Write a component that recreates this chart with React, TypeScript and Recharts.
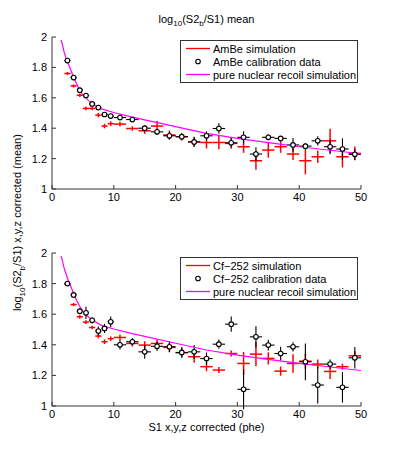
import { ComposedChart, Scatter, Line, XAxis, YAxis, ErrorBar, Legend } from "recharts";

const FONT = "'Liberation Sans', Arial, sans-serif";
const AXIS = "#333";

// S1 bin centres and bin half widths
const s1 = [2.5, 3.5, 4.5, 5.5, 6.5, 7.5, 8.5, 9.5, 11, 13, 15, 17, 19, 21, 23, 25, 27, 29, 31, 33, 35, 37, 39, 41, 43, 45, 47, 49];
const binHalf = [0.5, 0.5, 0.5, 0.5, 0.5, 0.5, 0.5, 0.5, 1, 1, 1, 1, 1, 1, 1, 1, 1, 1, 1, 1, 1, 1, 1, 1, 1, 1, 1, 1];

// AmBe
const ambeSim = [1.76, 1.678, 1.617, 1.53, 1.53, 1.486, 1.414, 1.43, 1.427, 1.398, 1.383, 1.414, 1.355, 1.344, 1.31, 1.306, 1.306, 1.3, 1.278, 1.186, 1.256, 1.278, 1.23, 1.186, 1.212, 1.317, 1.212, 1.234];
const ambeSimErr = [0.01, 0.01, 0.012, 0.012, 0.012, 0.015, 0.015, 0.015, 0.015, 0.015, 0.02, 0.033, 0.03, 0.025, 0.03, 0.04, 0.045, 0.035, 0.04, 0.06, 0.05, 0.04, 0.04, 0.09, 0.04, 0.08, 0.07, 0.045];
const ambeData = [1.845, 1.733, 1.65, 1.615, 1.56, 1.536, 1.49, 1.48, 1.47, 1.457, 1.4, 1.376, 1.35, 1.344, 1.31, 1.35, 1.398, 1.304, 1.34, 1.23, 1.34, 1.333, 1.29, 1.282, 1.317, 1.278, 1.263, 1.228];
const ambeDataErr = [0.01, 0.01, 0.01, 0.01, 0.012, 0.012, 0.015, 0.015, 0.015, 0.015, 0.02, 0.02, 0.025, 0.02, 0.033, 0.03, 0.035, 0.03, 0.04, 0.045, 0.02, 0.015, 0.045, 0.02, 0.03, 0.05, 0.07, 0.035];

// Cf-252
const cfSim = [1.796, 1.663, 1.583, 1.548, 1.513, 1.457, 1.42, 1.44, 1.448, 1.409, 1.398, 1.409, 1.383, 1.348, 1.322, 1.257, 1.235, 1.343, 1.278, 1.339, 1.311, 1.228, 1.278, 1.293, 1.274, 1.226, 1.257, 1.328];
const cfSimErr = [0.01, 0.01, 0.012, 0.012, 0.012, 0.015, 0.015, 0.015, 0.02, 0.02, 0.025, 0.025, 0.03, 0.03, 0.04, 0.03, 0.02, 0.02, 0.075, 0.08, 0.04, 0.03, 0.06, 0.05, 0.03, 0.05, 0.02, 0.03];
const cfData = [1.8, 1.726, 1.62, 1.609, 1.56, 1.49, 1.507, 1.55, 1.4, 1.42, 1.354, 1.39, 1.387, 1.35, 1.354, 1.31, 1.404, 1.535, 1.109, 1.452, 1.398, 1.343, 1.387, 1.289, 1.137, 1.274, 1.122, 1.315];
const cfDataErr = [0.015, 0.02, 0.02, 0.04, 0.02, 0.03, 0.03, 0.035, 0.03, 0.025, 0.045, 0.03, 0.035, 0.035, 0.045, 0.04, 0.03, 0.05, 0.13, 0.07, 0.035, 0.045, 0.03, 0.12, 0.12, 0.03, 0.1, 0.07];

// pure nuclear recoil simulation
const nrX = [1.5, 2, 2.5, 3, 3.5, 4, 4.5, 5, 6, 7, 8, 10, 12.5, 15, 20, 25, 30, 35, 40, 45, 50];
const nrY = [1.98, 1.895, 1.835, 1.786, 1.735, 1.69, 1.65, 1.617, 1.578, 1.55, 1.527, 1.503, 1.478, 1.455, 1.41, 1.366, 1.333, 1.305, 1.278, 1.255, 1.232];

const xTicks = [0, 10, 20, 30, 40, 50];
const yTicks = [1, 1.2, 1.4, 1.6, 1.8, 2];

const points = (ys: number[], errs: number[]) =>
  s1.map((x, i) => ({ x, y: ys[i], ex: binHalf[i], ey: errs[i] }));
const curve = nrX.map((x, i) => ({ x, y: nrY[i] }));

const Empty = () => <g />;

function LegendBox({ labels }: { labels: string[] }) {
  const row = { display: "flex", alignItems: "center", height: 13 } as const;
  return (
    <div style={{ width: 176, height: 40, border: `1px solid ${AXIS}`, background: "#fff", fontFamily: FONT, fontSize: 11, color: "#000", paddingTop: 1 }}>
      <div style={row}>
        <svg width={32} height={13}><line x1={5} x2={29} y1={6.5} y2={6.5} stroke="#ff0000" strokeWidth={1.3} /></svg>
        <span>{labels[0]}</span>
      </div>
      <div style={row}>
        <svg width={32} height={13}><circle cx={17} cy={6.5} r={2.3} fill="#fff" stroke="#000" strokeWidth={1.1} /></svg>
        <span>{labels[1]}</span>
      </div>
      <div style={row}>
        <svg width={32} height={13}><line x1={5} x2={29} y1={6.5} y2={6.5} stroke="#ff00ff" strokeWidth={1.3} /></svg>
        <span>{labels[2]}</span>
      </div>
    </div>
  );
}

function Panel({ height, margin, sim, simErr, data, dataErr, labels, legendTop }: any) {
  return (
    <ComposedChart width={399} height={height} margin={margin}>
      <XAxis dataKey="x" type="number" domain={[0, 50]} ticks={xTicks} allowDataOverflow height={20}
        stroke={AXIS} tickSize={-4} tickMargin={8} tick={{ fontSize: 11, fill: "#000", fontFamily: FONT }} />
      <XAxis xAxisId="top" orientation="top" type="number" domain={[0, 50]} ticks={xTicks} height={0}
        stroke={AXIS} tickSize={-4} tick={Empty} />
      <YAxis type="number" domain={[1, 2]} ticks={yTicks} allowDataOverflow width={30}
        stroke={AXIS} tickSize={-4} tickMargin={9} tick={{ fontSize: 11, fill: "#000", fontFamily: FONT }} />
      <YAxis yAxisId="right" orientation="right" type="number" domain={[1, 2]} ticks={yTicks} width={0}
        stroke={AXIS} tickSize={-4} tick={Empty} />
      <Scatter data={points(sim, simErr)} dataKey="y" shape={Empty} isAnimationActive={false}>
        <ErrorBar dataKey="ex" direction="x" width={0} stroke="#ff0000" strokeWidth={1.5} />
        <ErrorBar dataKey="ey" direction="y" width={0} stroke="#ff0000" strokeWidth={1.5} />
      </Scatter>
      <Scatter data={points(data, dataErr)} dataKey="y" isAnimationActive={false}
        shape={(p: any) => <circle cx={p.cx} cy={p.cy} r={2.3} fill="#fff" stroke="#000" strokeWidth={1.1} />}>
        <ErrorBar dataKey="ex" direction="x" width={0} stroke="#000" strokeWidth={1.1} />
        <ErrorBar dataKey="ey" direction="y" width={0} stroke="#000" strokeWidth={1.1} />
      </Scatter>
      <Line data={curve} dataKey="y" type="linear" stroke="#ff00ff" strokeWidth={1.2} dot={false} isAnimationActive={false} />
      <Legend layout="horizontal" verticalAlign="middle" align="center"
        wrapperStyle={{ top: legendTop, left: 180, width: 178 }}
        content={() => <LegendBox labels={labels} />} />
    </ComposedChart>
  );
}

export default function App() {
  return (
    <div style={{ position: "absolute", left: 0, top: 0, width: 399, height: 456, background: "#fff", fontFamily: FONT, color: "#000" }}>
      <div style={{ position: "absolute", left: 52, width: 309, top: 12, textAlign: "center", fontSize: 11, lineHeight: "14px" }}>
        log<sub style={{ fontSize: 8 }}>10</sub>(S2<sub style={{ fontSize: 8 }}>b</sub>/S1) mean
      </div>
      <div style={{ position: "absolute", left: 0, top: 0 }}>
        <Panel height={210} margin={{ top: 37, right: 38, bottom: 1, left: 22 }}
          sim={ambeSim} simErr={ambeSimErr} data={ambeData} dataErr={ambeDataErr}
          labels={["AmBe simulation", "AmBe calibration data", "pure nuclear recoil simulation"]} legendTop={40} />
      </div>
      <div style={{ position: "absolute", left: 0, top: 210 }}>
        <Panel height={246} margin={{ top: 43, right: 38, bottom: 30, left: 22 }}
          sim={cfSim} simErr={cfSimErr} data={cfData} dataErr={cfDataErr}
          labels={["Cf\u2212252 simulation", "Cf\u2212252 calibration data", "pure nuclear recoil simulation"]} legendTop={47} />
      </div>
      <div style={{ position: "absolute", left: 52, width: 309, top: 420, textAlign: "center", fontSize: 11, lineHeight: "14px" }}>
        S1 x,y,z corrected (phe)
      </div>
      <div style={{ position: "absolute", left: 20 - 150, width: 300, top: 220 - 8, textAlign: "center", fontSize: 11, lineHeight: "16px", transform: "rotate(-90deg)", whiteSpace: "nowrap" }}>
        log<sub style={{ fontSize: 8 }}>10</sub>(S2<sub style={{ fontSize: 8 }}>b</sub>/S1) x,y,z corrected (mean)
      </div>
    </div>
  );
}
